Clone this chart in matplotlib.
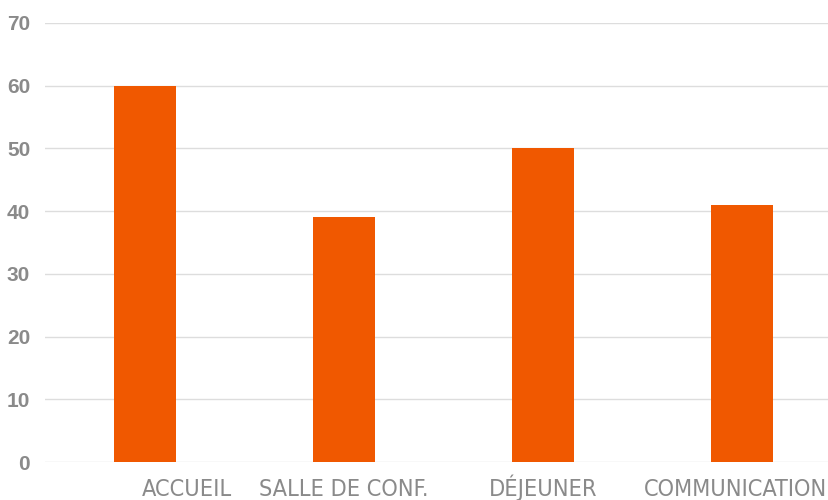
import matplotlib
matplotlib.use("Agg")
import matplotlib.pyplot as plt

categories = ["ACCUEIL", "SALLE DE CONF.", "DÉJEUNER", "COMMUNICATION"]
values = [60, 39, 50, 41]
label_offsets = [0.21, 0.0, 0.0, -0.035]
yticks = [0, 10, 20, 30, 40, 50, 60, 70]

fig = plt.figure(figsize=(8.29, 5.0), dpi=100)
W, H = 829, 500
ax = fig.add_axes([45.5 / W, 38 / H, 796 / W, 439 / H])
ax.set_clip_on(False)

x = list(range(len(categories)))
ax.bar(x, values, width=0.31, color="#F05800", zorder=3)
ax.set_xlim(-0.5, len(categories) - 0.5)
ax.set_ylim(0, 70)
ax.set_yticks(yticks)
ax.set_yticklabels([str(t) for t in yticks], fontsize=15, fontweight="bold",
                   color="#8a8a8a", family=["Liberation Sans", "DejaVu Sans"])
ax.tick_params(axis="y", length=0, pad=11)
ax.set_xticks([])
ax.grid(axis="y", color="#dddddd", linewidth=1, zorder=0)
for s in ax.spines.values():
    s.set_visible(False)

for i, (c, off) in enumerate(zip(categories, label_offsets)):
    ax.text(i + off, -5.35, c, ha="center", va="baseline", fontsize=16.8,
            color="#8a8a8a", family=["Liberation Sans Narrow", "DejaVu Sans"],
            fontstretch="condensed", clip_on=False)

fig.savefig("out.png", dpi=100)
